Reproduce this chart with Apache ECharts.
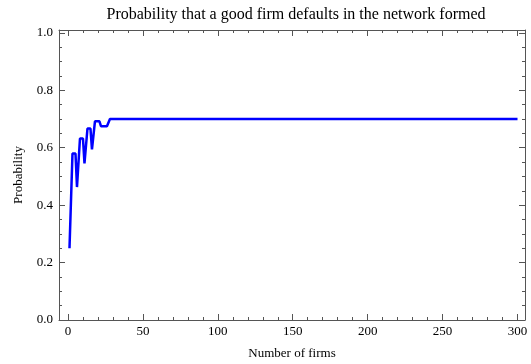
<!DOCTYPE html>
<html>
<head>
<meta charset="utf-8">
<script src="https://cdn.jsdelivr.net/npm/echarts@6/dist/echarts.min.js"></script>
<style>html,body{margin:0;padding:0;background:#fff}#c{width:531px;height:364px}</style>
</head>
<body>
<div id="c"></div>
<script>
var firms = [1, 3, 5, 6, 8, 10, 11, 13, 15, 16, 18, 21, 22, 26, 28, 300];
var probability = [0.25, 0.58, 0.58, 0.463, 0.632, 0.632, 0.545, 0.667, 0.667, 0.594, 0.692, 0.692, 0.675, 0.675, 0.70, 0.70];
var xMajorTicks = [0, 50, 100, 150, 200, 250, 300];
var xMinorTicks = [10,20,30,40,60,70,80,90,110,120,130,140,160,170,180,190,210,220,230,240,260,270,280,290];
var yMajorTicks = [0, 0.2, 0.4, 0.6, 0.8, 1.0];
var yMinorTicks = [0.05,0.1,0.15,0.25,0.3,0.35,0.45,0.5,0.55,0.65,0.7,0.75,0.85,0.9,0.95];

var frameColor = '#555555';
var font = 'Liberation Serif';
var chart = echarts.init(document.getElementById('c'), null, {renderer: 'canvas'});

function xAx(pos, ticks, len, labels, line, extra) {
  var a = {
    type: 'value', position: pos, min: -6, max: 305,
    axisLine: {show: line, onZero: false, lineStyle: {color: frameColor, width: 1}},
    axisTick: {show: true, inside: true, length: len, customValues: ticks, lineStyle: {color: frameColor}},
    axisLabel: {show: labels, customValues: ticks, color: '#000', fontFamily: font, fontSize: 13, margin: 5},
    splitLine: {show: false}
  };
  if (extra) Object.assign(a, extra);
  return a;
}
function yAx(pos, ticks, len, labels, line, extra) {
  var a = {
    type: 'value', position: pos, min: 0, max: 1.01,
    axisLine: {show: line, onZero: false, lineStyle: {color: frameColor, width: 1}},
    axisTick: {show: true, inside: true, length: len, customValues: ticks, lineStyle: {color: frameColor}},
    axisLabel: {show: labels, customValues: ticks, color: '#000', fontFamily: font, fontSize: 13, margin: 6,
      formatter: function (v) { return v.toFixed(1); }},
    splitLine: {show: false}
  };
  if (extra) Object.assign(a, extra);
  return a;
}

chart.setOption({
  animation: false,
  backgroundColor: '#fff',
  title: {
    text: 'Probability that a good firm defaults in the network formed',
    left: 291, top: 2, textAlign: 'center',
    textStyle: {fontFamily: font, fontSize: 16, fontWeight: 'normal', color: '#000'}
  },
  grid: {left: 59, right: 6, top: 30, bottom: 44, containLabel: false, outerBoundsMode: 'none'},
  xAxis: [
    xAx('bottom', xMajorTicks, 6, true, true, {name: 'Number of firms', nameLocation: 'middle', nameGap: 27,
      nameTextStyle: {fontFamily: font, fontSize: 13, color: '#000'}}),
    xAx('bottom', xMinorTicks, 3, false, false),
    xAx('top', xMajorTicks, 6, false, true),
    xAx('top', xMinorTicks, 3, false, false)
  ],
  yAxis: [
    yAx('left', yMajorTicks, 6, true, true, {name: 'Probability', nameLocation: 'middle', nameGap: 34, nameRotate: 90,
      nameTextStyle: {fontFamily: font, fontSize: 13, color: '#000'}}),
    yAx('left', yMinorTicks, 3, false, false),
    yAx('right', yMajorTicks, 6, false, true),
    yAx('right', yMinorTicks, 3, false, false)
  ],
  series: [{
    type: 'line',
    xAxisIndex: 0, yAxisIndex: 0,
    data: firms.map(function (x, i) { return [x, probability[i]]; }),
    showSymbol: false,
    lineStyle: {color: '#0000ff', width: 2.5},
    itemStyle: {color: '#0000ff'}
  }]
});
</script>
</body>
</html>
